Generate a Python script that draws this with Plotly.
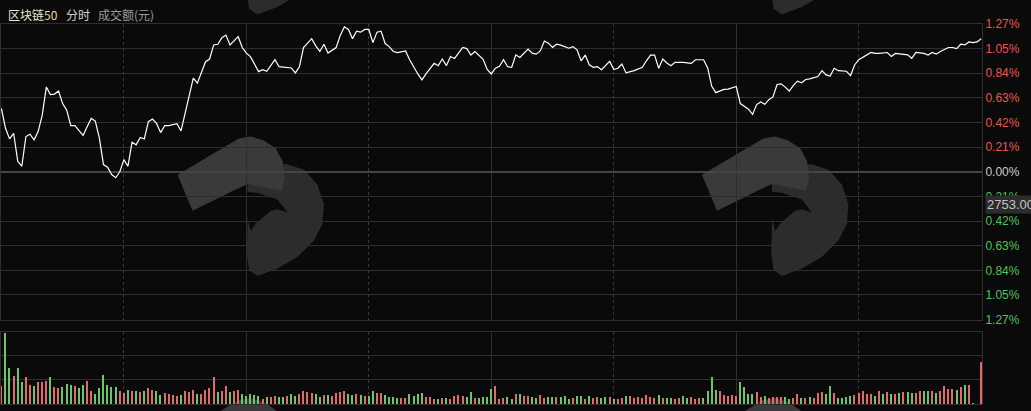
import plotly.graph_objects as go
from plotly.subplots import make_subplots

# 分时数据: 分钟序号 (0 = 开盘, 240 = 收盘) 与 涨跌幅(%)
minutes = [0, 1, 2, 3, 4, 5, 6, 7, 8, 9, 10, 11, 12, 13, 14, 15, 16, 17, 18, 20,
           21, 22, 23, 24, 25, 26, 27, 28, 29, 30, 31, 32, 33, 34, 35, 36, 37, 38, 39, 40,
           41, 43, 44, 45, 47, 48, 49, 50, 51, 52, 53, 54, 55, 56, 58, 59, 60, 61, 63, 64,
           65, 67, 68, 70, 71, 72, 73, 74, 76, 77, 78, 79, 80, 82, 83, 84, 85, 86, 87, 88,
           89, 90, 91, 92, 93, 94, 95, 96, 97, 99, 100, 102, 103, 104, 106, 107, 108, 109, 110, 111,
           113, 114, 115, 116, 117, 118, 119, 120, 121, 122, 123, 124, 125, 126, 127, 129, 130, 131, 132, 133,
           134, 135, 136, 137, 139, 140, 141, 142, 143, 144, 145, 146, 147, 149, 150, 151, 152, 153, 155, 156,
           157, 158, 159, 160, 161, 162, 163, 164, 165, 167, 168, 169, 170, 172, 173, 174, 175, 176, 177, 178,
           180, 181, 182, 183, 184, 185, 186, 187, 188, 189, 190, 191, 192, 193, 194, 195, 196, 197, 198, 200,
           201, 202, 203, 204, 205, 207, 208, 209, 210, 211, 213, 214, 215, 217, 218, 219, 220, 222, 223, 224,
           226, 227, 228, 229, 230, 231, 232, 233, 234, 235, 236, 237, 238, 239, 240]
pct = [0.544, 0.374, 0.283, 0.331, 0.09, 0.048, 0.303, 0.323, 0.275, 0.346, 0.487, 0.728, 0.663, 0.668, 0.694, 0.586, 0.529, 0.397, 0.397, 0.312,
       0.388, 0.459, 0.436, 0.289, 0.062, 0.04, -0.023, -0.051, 0.0, 0.105, 0.048, 0.255, 0.232, 0.295, 0.283, 0.431, 0.453, 0.416, 0.337, 0.397,
       0.397, 0.414, 0.351, 0.501, 0.805, 0.762, 0.856, 0.946, 0.969, 1.09, 1.096, 1.153, 1.175, 1.09, 1.161, 1.068, 1.02, 0.99, 0.861, 0.878,
       0.864, 0.963, 0.903, 0.892, 0.892, 0.85, 0.903, 1.068, 1.144, 1.082, 1.034, 1.096, 1.02, 1.068, 1.172, 1.246, 1.223, 1.144, 1.209, 1.2,
       1.223, 1.223, 1.11, 1.2, 1.209, 1.102, 1.076, 1.034, 1.025, 1.039, 0.963, 0.841, 0.79, 0.841, 0.932, 0.912, 0.969, 0.912, 0.991, 0.974,
       1.068, 1.059, 1.003, 1.034, 1.0, 0.966, 0.88, 0.841, 0.89, 0.907, 0.963, 0.903, 0.898, 1.005, 0.983, 1.054, 1.02, 1.011, 1.039, 1.124,
       1.105, 1.068, 1.096, 1.088, 1.062, 1.076, 1.048, 0.954, 1.003, 0.92, 0.898, 0.903, 0.878, 0.949, 0.878, 0.89, 0.926, 0.85, 0.869, 0.884,
       0.898, 0.954, 1.003, 1.003, 0.89, 0.969, 0.935, 0.912, 0.941, 0.941, 0.935, 0.932, 0.963, 0.963, 0.893, 0.735, 0.68, 0.691, 0.708, 0.711,
       0.733, 0.586, 0.558, 0.538, 0.493, 0.578, 0.6, 0.58, 0.62, 0.643, 0.75, 0.756, 0.728, 0.694, 0.742, 0.779, 0.765, 0.793, 0.799, 0.818,
       0.869, 0.833, 0.822, 0.89, 0.869, 0.864, 0.827, 0.918, 0.963, 0.983, 1.025, 1.017, 1.017, 1.025, 0.991, 1.017, 1.011, 1.005, 0.974, 1.025,
       1.017, 1.003, 1.025, 1.011, 1.034, 1.054, 1.068, 1.068, 1.059, 1.096, 1.09, 1.116, 1.11, 1.116, 1.144]

# 每分钟成交额 (相对单位) 及涨跌方向 r=红 g=绿
turnover = [56, 216, 108, 86, 108, 68, 83, 59, 56, 68,
            68, 71, 81, 53, 48, 53, 61, 58, 56, 48,
            59, 71, 41, 31, 49, 89, 59, 51, 51, 38,
            33, 44, 41, 38, 36, 38, 50, 44, 40, 26,
            32, 29, 26, 24, 26, 38, 36, 44, 29, 31,
            44, 50, 81, 36, 41, 56, 36, 41, 44, 31,
            24, 29, 26, 23, 16, 20, 21, 24, 20, 20,
            24, 29, 24, 29, 41, 36, 32, 29, 20, 26,
            26, 24, 32, 36, 41, 29, 26, 29, 26, 24,
            24, 41, 32, 32, 26, 20, 20, 18, 18, 18,
            29, 24, 29, 32, 21, 21, 15, 15, 18, 18,
            15, 24, 26, 24, 21, 35, 18, 18, 20, 20,
            46, 56, 15, 18, 20, 15, 29, 29, 24, 24,
            20, 18, 26, 18, 20, 20, 20, 21, 24, 15,
            18, 24, 24, 15, 24, 18, 21, 18, 20, 20,
            16, 15, 18, 24, 24, 18, 20, 18, 26, 20,
            18, 26, 18, 18, 18, 15, 18, 24, 18, 21,
            15, 18, 18, 38, 83, 44, 38, 26, 24, 26,
            24, 66, 51, 31, 29, 35, 20, 24, 18, 20,
            20, 20, 20, 16, 18, 29, 18, 18, 20, 18,
            32, 35, 29, 56, 32, 18, 18, 20, 24, 26,
            32, 41, 29, 29, 24, 41, 29, 35, 29, 29,
            32, 35, 35, 32, 32, 41, 41, 41, 41, 32,
            41, 56, 47, 47, 44, 53, 59, 59, 4, 0,
            128]
direction = ("rggrggrrgr" "rrgrrgggrg" "grrggggggr" "rgrgrgrrgg" "rrrrgrrrgr"
             "rrrgrrgrrg" "ggggrgrrgg" "rggrrrrggr" "grrrrggrgr" "ggrrggggrr"
             "ggggrrrgrg" "rrrrggrggg" "grrrggrgrr" "ggrrggrggg" "rggrgrrggr"
             "grrgrrrrrr" "rgrggrrggr" "rrggggrrrr" "rggggrrgrr" "rrggrrgrgr"
             "rrggrggggr" "rrrrgrgrgr" "grggrrggrg" "rrrrgrgrgg" "r")

pct_max = 1.27
tick_labels = ["1.27%", "1.05%", "0.84%", "0.63%", "0.42%", "0.21%", "0.00%",
               "0.21%", "0.42%", "0.63%", "0.84%", "1.05%", "1.27%"]
last_price = "2753.00"

BG = "#0a0a0a"
GRID = "#2e2e2e"
RED = "#e8564f"
GREEN = "#4cc45a"
BAR_RED = "#df6b6b"
BAR_GREEN = "#6cc46c"

tick_vals = [pct_max * (6 - i) / 6 for i in range(13)]
tick_text = []
for v, t in zip(tick_vals, tick_labels):
    c = RED if v > 1e-9 else (GREEN if v < -1e-9 else "#c8ccd0")
    tick_text.append(f"<span style='color:{c}'>{t}</span>")

fig = make_subplots(rows=2, cols=1, shared_xaxes=True, vertical_spacing=0.0,
                    row_heights=[0.8, 0.2])

fig.add_trace(go.Scatter(x=minutes, y=pct, mode="lines",
                         line=dict(color="white", width=1.2),
                         hoverinfo="skip", showlegend=False), row=1, col=1)

bar_colors = [BAR_RED if d == "r" else BAR_GREEN for d in direction]
fig.add_trace(go.Bar(x=list(range(len(turnover))), y=turnover,
                     marker=dict(color=bar_colors, line=dict(width=0)),
                     width=0.32, hoverinfo="skip", showlegend=False), row=2, col=1)

# 布局 (像素 -> paper 坐标)
W, H = 1031, 411
ML, MR, MT, MB = 0, 49, 24, 2
PW, PH = W - ML - MR, H - MT - MB


def px(x):
    return (x - ML) / PW


def py(y):
    return (H - MB - y) / PH


xgrid = dict(range=[-0.1, 240.2], showticklabels=False, ticks="", dtick=60, tick0=0,
             showgrid=True, gridcolor=GRID, gridwidth=1,
             minor=dict(dtick=30, tick0=0, showgrid=True, gridcolor="#3a3a3a", griddash="dot"),
             showline=True, mirror=True, linecolor=GRID, zeroline=False)

fig.update_layout(
    width=W, height=H,
    margin=dict(l=ML, r=MR, t=MT, b=MB),
    paper_bgcolor=BG, plot_bgcolor="rgba(0,0,0,0)",
    bargap=0,
    xaxis=dict(xgrid),
    xaxis2=dict(xgrid),
    yaxis=dict(domain=[py(323.5), 1.0], range=[-pct_max, pct_max], side="right",
               tickvals=tick_vals, ticktext=tick_text, ticks="",
               tickfont=dict(family="Liberation Sans, Arial", size=12),
               showgrid=True, gridcolor=GRID, zeroline=True, zerolinecolor="#444444",
               zerolinewidth=1.5, showline=True, mirror=True, linecolor=GRID),
    yaxis2=dict(domain=[0.0, py(336)], range=[0, 218], side="right",
                tickvals=[218 / 3, 218 * 2 / 3], showticklabels=False, ticks="",
                showgrid=True, gridcolor=GRID, zeroline=False,
                showline=True, mirror=True, linecolor=GRID),
)

# 水印 (logo, 平铺)
dark = [(246.7, 180), (256.7, 171.7), (270, 166), (286.7, 166), (303.3, 171.7),
        (316.7, 186.7), (323.3, 206.7), (321.7, 226.7), (313.3, 243.3), (296.7, 260),
        (276.7, 271.7), (256.7, 279.3), (248.3, 273.3), (246, 256.7), (246.7, 230)]
light = [(176.7, 176.7), (238, 140), (250, 138), (263, 142), (275, 150), (282, 163),
         (284, 180), (281, 193), (246.7, 186), (191.7, 213.3)]
bird = [(214, 203), (233.3, 192.5), (256.7, 195), (276.7, 201.7), (286.7, 215),
        (276.7, 211.7), (270, 213.3), (255, 226), (250, 234), (247.3, 223.3),
        (245, 212), (236.7, 206), (225, 213.3), (220, 206)]


def path(pts, dx, dy):
    s = "M " + " L ".join(f"{px(x + dx):.5f},{py(y + dy):.5f}" for x, y in pts)
    return s + " Z"


for dx in (0, 525):
    for dy in (-265, 0, 265):
        for pts, col in ((dark, "#2a2c2e"), (light, "#3a3a3a"), (bird, BG)):
            fig.add_shape(type="path", path=path(pts, dx, dy), xref="paper", yref="paper",
                          fillcolor=col, line=dict(width=0), layer="below")

# 标题
title_parts = [("<span style='color:#e8e6dc'>区块链</span><span style='color:#e6d89a'>50</span>", 5),
               ("分时", 63), ("成交额(元)", 95)]
title_colors = ["#e8e6dc", "#d0d0d0", "#9c9c9c"]
for (txt, x0), c in zip(title_parts, title_colors):
    fig.add_annotation(text=txt, x=px(x0), y=py(14), xref="paper", yref="paper",
                       xanchor="left", yanchor="middle", showarrow=False,
                       font=dict(family="Noto Sans CJK SC", size=12, color=c))

# 右侧价格标签
fig.add_annotation(text=last_price, x=px(985), y=py(206.5), xref="paper", yref="paper",
                   xanchor="left", yanchor="middle", showarrow=False,
                   bgcolor="#2c2c2c", borderpad=1,
                   font=dict(family="Liberation Sans, Arial", size=13, color="#c4c4c4"))

fig.write_html("out.html", config={"displayModeBar": False},
               post_script="document.body.style.margin='0';document.body.style.overflow='hidden';")
